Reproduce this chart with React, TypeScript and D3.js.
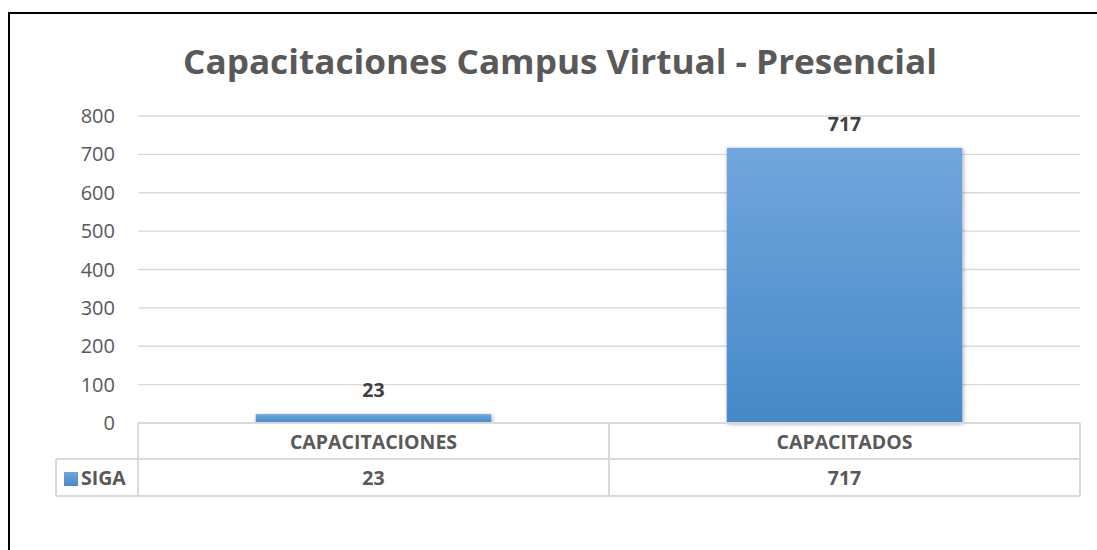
import React from "react";
import * as d3 from "d3";

const categories = ["CAPACITACIONES", "CAPACITADOS"];
const values = [23, 717];
const seriesName = "SIGA";
const yTicks = [0, 100, 200, 300, 400, 500, 600, 700, 800];
const title = "Capacitaciones Campus Virtual - Presencial";

export default function App() {
  const W = 1097, H = 550;
  const left = 138, right = 1080, top = 116, bottom = 423;
  const x = d3.scaleBand<string>().domain(categories).range([left, right]).paddingInner(0.5).paddingOuter(0.25);
  const xb = d3.scaleBand<string>().domain(categories).range([left, right]);
  const y = d3.scaleLinear().domain([0, 800]).range([bottom, top]);
  const font = "'Open Sans', sans-serif";
  const row1 = 459, row2 = 496, legLeft = 56;
  const grid = "#d9d9d9";
  const fs = 19.5;
  return (
    <svg width={W} height={H} style={{ position: "absolute", left: 0, top: 0 }} fontFamily={font}>
      <defs>
        <linearGradient id="barg" x1="0" y1="0" x2="0" y2="1">
          <stop offset="0" stopColor="#71a6dc" />
          <stop offset="1" stopColor="#4589c8" />
        </linearGradient>
        <filter id="sh" x="-10%" y="-10%" width="120%" height="120%">
          <feDropShadow dx="1" dy="1" stdDeviation="2" floodColor="#000" floodOpacity="0.35" />
        </filter>
      </defs>
      <rect x={0} y={0} width={W} height={H} fill="#fff" />
      <rect x={9} y={13} width={W + 20} height={H + 20} fill="none" stroke="#000" strokeWidth={2} />
      <text x={560} y={74} textAnchor="middle" fontSize={34} fontWeight="bold" fill="#595959" textLength={754} lengthAdjust="spacingAndGlyphs">{title}</text>
      {yTicks.map(t => (
        <g key={t}>
          {t > 0 && <line x1={left} x2={right} y1={y(t)} y2={y(t)} stroke={grid} strokeWidth={1.3} />}
          <text x={115} y={y(t) + 7} textAnchor="end" fontSize={20} fill="#595959">{t}</text>
        </g>
      ))}
      {categories.map((c, i) => (
        <g key={c}>
          <rect x={x(c)} y={y(values[i])} width={x.bandwidth()} height={bottom - y(values[i])} fill="url(#barg)" filter="url(#sh)" />
          <text x={(x(c) as number) + x.bandwidth() / 2} y={y(values[i]) - 17} textAnchor="middle" fontSize={fs} fontWeight="bold" fill="#404040">{values[i]}</text>
        </g>
      ))}
      <g stroke={grid} strokeWidth={2} fill="none">
        <line x1={left} x2={right} y1={bottom} y2={bottom} />
        <line x1={legLeft} x2={right} y1={row1} y2={row1} />
        <line x1={legLeft} x2={right} y1={row2} y2={row2} />
        <line x1={legLeft} x2={legLeft} y1={row1} y2={row2} />
        <line x1={left} x2={left} y1={bottom} y2={row2} />
        <line x1={right} x2={right} y1={bottom} y2={row2} />
        {categories.slice(1).map(c => (
          <line key={c} x1={xb(c)} x2={xb(c)} y1={bottom} y2={row2} />
        ))}
      </g>
      {categories.map((c, i) => (
        <g key={c + "t"}>
          <text x={(xb(c) as number) + xb.bandwidth() / 2} y={bottom + 26} textAnchor="middle" fontSize={fs} fontWeight="bold" fill="#595959">{c}</text>
          <text x={(xb(c) as number) + xb.bandwidth() / 2} y={row1 + 26} textAnchor="middle" fontSize={fs} fontWeight="bold" fill="#595959">{values[i]}</text>
        </g>
      ))}
      <rect x={64} y={472} width={14} height={14} fill="url(#barg)" />
      <text x={81} y={row1 + 26} fontSize={fs} fontWeight="bold" fill="#595959">{seriesName}</text>
    </svg>
  );
}
